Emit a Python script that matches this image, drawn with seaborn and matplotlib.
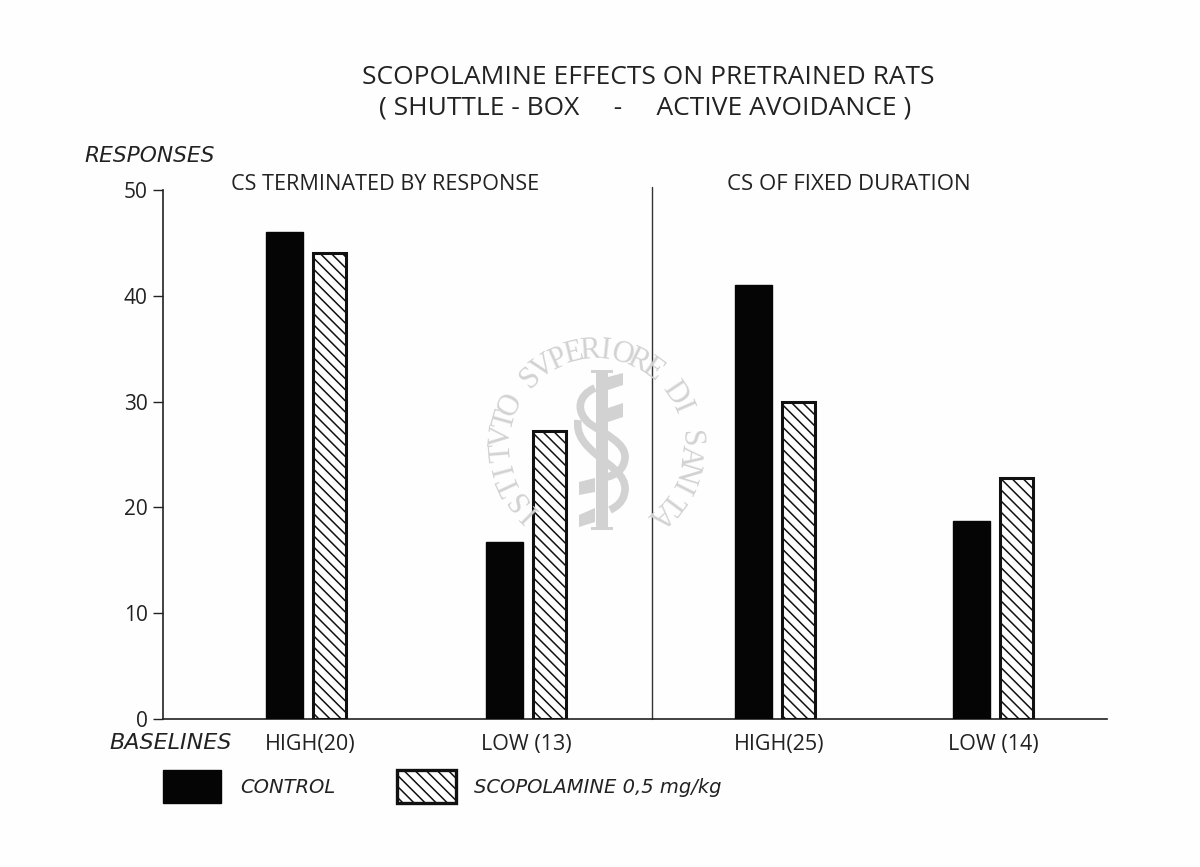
import numpy as np
import pandas as pd
import matplotlib.pyplot as plt
from matplotlib.patches import PathPatch, Rectangle, Polygon
from matplotlib.path import Path
from matplotlib.transforms import Affine2D
import seaborn as sns

# ---- data ----
baseline_labels = ['HIGH(20)', 'LOW (13)', 'HIGH(25)', 'LOW (14)']
control = [46, 16.7, 41, 18.7]
scopolamine = [44, 27.2, 30, 22.8]
treatment_names = ['CONTROL', 'SCOPOLAMINE 0,5 mg/kg']
y_ticks = [0, 10, 20, 30, 40, 50]

# layout only, in picture pixels
group_pos = [307, 527, 776, 994]
label_pos = [310, 526, 779, 993]

sns.set_theme(style='white')
plt.rcParams['font.family'] = ['Open Sans', 'DejaVu Sans']
plt.rcParams['hatch.linewidth'] = 1.1
plt.rcParams['hatch.color'] = '#111111'

df = pd.DataFrame({
    'pos': group_pos * 2,
    'value': control + scopolamine,
    'treatment': [treatment_names[0]] * 4 + [treatment_names[1]] * 4,
})

W, H = 1200, 867
fig = plt.figure(figsize=(W / 100, H / 100), dpi=100, facecolor='#fefefe')
ax = fig.add_axes([163 / W, (H - 719) / H, (1107 - 163) / W, (719 - 190) / H])
ax.patch.set_alpha(0)
px = Affine2D().scale(1 / W, -1 / H).translate(0, 1) + fig.transFigure

# ---- bars ----
sns.barplot(
    data=df, x='pos', y='value', hue='treatment', hue_order=treatment_names,
    native_scale=True, width=0.42, gap=0.19, dodge=True, ax=ax,
    palette=['#050505', 'white'], saturation=1, legend=False, zorder=3,
)
n = len(group_pos)
for bar in ax.patches[:n]:
    bar.set_edgecolor('#050505')
for bar in ax.patches[n:2 * n]:
    # hatched bars are a little narrower than the solid ones
    bar.set_x(bar.get_x() + 1.5)
    bar.set_width(bar.get_width() - 4)
    bar.set_edgecolor('#111111')
    bar.set_linewidth(2.2)
    bar.set_hatch('\\\\\\')
    bar.set_facecolor((1, 1, 1, 0.75))

# ---- axes ----
ax.set_xlim(163, 1107)
ax.set_ylim(0, 50)
ax.set_yticks(y_ticks)
ax.set_xticks(label_pos)
ax.set_xticklabels(baseline_labels, fontsize=15.5, color='#222222')
ax.set_xlabel('')
ax.set_ylabel('')
ax.tick_params(axis='x', length=0, pad=11)
ax.tick_params(axis='y', length=7, width=1, color='#222222', pad=4,
               labelsize=15, labelcolor='#222222', left=True)
sns.despine(ax=ax)
for side in ['left', 'bottom']:
    ax.spines[side].set_color('#222222')
    ax.spines[side].set_linewidth(1.2)

# divider between the two procedures
ax.plot([652, 652], [0, 50.3], color='#333333', lw=1, clip_on=False, zorder=2)

# ---- text ----
def label(x, y, s, size, italic=False):
    fig.text(x / W, 1 - y / H, s, fontsize=size, ha='center', va='center', color='#222222',
             style='italic' if italic else 'normal',
             family='DejaVu Sans' if italic else ['Open Sans', 'DejaVu Sans'])

label(648, 78, 'SCOPOLAMINE EFFECTS ON PRETRAINED RATS', 19)
label(645, 108, '( SHUTTLE - BOX     -     ACTIVE AVOIDANCE )', 19)
label(385, 185, 'CS TERMINATED BY RESPONSE', 15.6)
label(849, 185, 'CS OF FIXED DURATION', 16)
label(150, 156, 'RESPONSES', 15.7, italic=True)
label(171, 743, 'BASELINES', 16, italic=True)

# ---- legend ----
handles = [
    Rectangle((0, 0), 1, 1, fc='#050505', ec='#050505'),
    Rectangle((0, 0), 1, 1, fc='white', ec='#111111', lw=2.4, hatch='\\\\\\'),
]
ax.legend(
    handles, treatment_names, ncols=2, frameon=False, loc='center left',
    bbox_to_anchor=(0, -0.128), borderaxespad=0, borderpad=0,
    prop={'family': 'DejaVu Sans', 'size': 14, 'style': 'italic'}, labelcolor='#222222',
    handlelength=3.0, handleheight=2.27, handletextpad=0.95, columnspacing=3.2,
)

# ---- watermark stamp ----
stamp = '#d2d2d2'
cx, cy, r = 596, 445, 94
text_stamp = 'ISTITVTO SVPERIORE DI SANITA'
angles = np.linspace(-135, 137, len(text_stamp))
for ch, a in zip(text_stamp, angles):
    t = np.deg2rad(a)
    fig.text((cx + r * np.sin(t)) / W, 1 - (cy - r * np.cos(t)) / H, ch,
             rotation=-a, rotation_mode='anchor', ha='center', va='center',
             family='Liberation Serif', fontsize=22, color=stamp, zorder=1)

def stamp_add(p):
    p.set_transform(px)
    p.set_zorder(1)
    ax.add_artist(p)
    p.set_clip_on(False)

stamp_add(Rectangle((596, 370), 12, 160, fc=stamp, ec='none'))
stamp_add(Rectangle((591, 370), 22, 3, fc=stamp, ec='none'))
stamp_add(Rectangle((591, 527), 22, 3, fc=stamp, ec='none'))
stamp_add(Polygon([(608, 377), (623, 373), (623, 385), (608, 390)], fc=stamp, ec='none'))
stamp_add(Polygon([(608, 408), (623, 403), (623, 417), (608, 422)], fc=stamp, ec='none'))
stamp_add(Polygon([(579, 482), (595, 478), (595, 492), (579, 495)], fc=stamp, ec='none'))
stamp_add(Polygon([(579, 515), (595, 508), (595, 522), (579, 527)], fc=stamp, ec='none'))
ribbons = [
    [(595, 388), (578, 395), (575, 412), (590, 424),
     (605, 434), (626, 443), (625, 458), (624, 470), (615, 475), (607, 477)],
    [(578, 420), (576, 435), (585, 445), (597, 455),
     (610, 466), (626, 475), (625, 490), (624, 502), (616, 507), (610, 510)],
]
for pts in ribbons:
    codes = [Path.MOVETO] + [Path.CURVE4] * (len(pts) - 1)
    stamp_add(PathPatch(Path(pts, codes), fc='none', ec=stamp, lw=5.5))

fig.savefig('out.png', dpi=100, facecolor=fig.get_facecolor())
